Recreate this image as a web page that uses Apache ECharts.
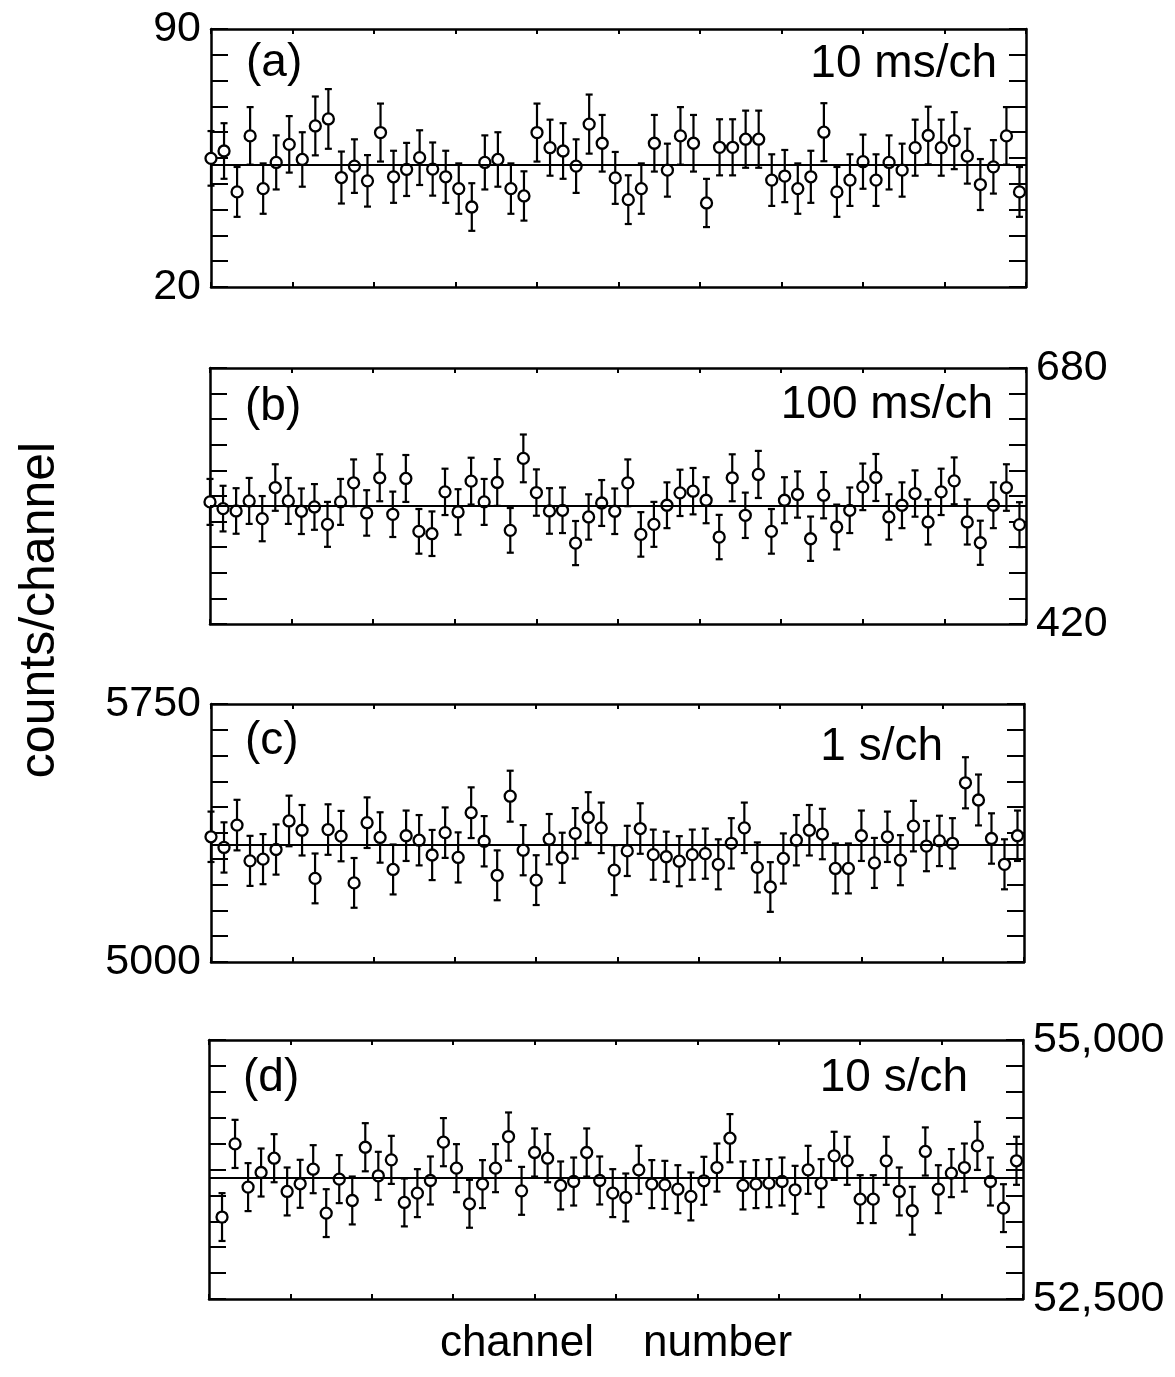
<!DOCTYPE html>
<html><head><meta charset="utf-8">
<script src="https://cdn.jsdelivr.net/npm/echarts@6/dist/echarts.min.js"></script>
<style>html,body{margin:0;padding:0;background:#fff}#c{width:1175px;height:1377px}</style>
</head><body><div id="c"></div>
<script>
// ---------- data ----------
const startChannel = [0, 0, 0, 1];
const valsA = [54.9,56.9,45.8,61.0,46.7,53.8,58.7,54.6,63.7,65.6,
  49.7,52.8,48.8,61.9,49.9,51.9,55.1,52.0,49.9,46.7,
  41.7,53.8,54.6,46.7,44.7,61.9,57.8,56.9,52.8,64.2,
  59.0,49.6,43.7,46.7,59.0,51.7,61.0,59.0,42.8,57.9,
  57.9,60.1,60.1,49.0,50.1,46.7,49.9,62.0,45.8,49.0,
  54.0,49.0,53.8,51.7,57.8,61.1,57.8,59.7,55.5,47.8,
  52.6,61.0,45.8];
const valsB = [544,537.2,534.8,545,527,558.6,545,534.5,538.9,521.2,
  544,563.4,532.8,568.5,531.4,567.8,514.1,511.7,554.2,533.8,
  565.1,544,563.7,515.1,588.2,553.5,534.8,535.5,502.2,528.7,
  542.9,534.5,563.4,511,521.2,540.6,553.2,554.9,545.7,508.3,
  568.5,530.4,571.9,514.1,545.7,551.5,506.6,550.8,518.5,535.5,
  559.3,568.8,528.7,540.6,552.5,523.6,554.2,565.4,523.6,502.5,
  540.6,558.6,520.9];
const valsC = [5364,5333,5398,5294,5299,5327,5410,5383,5243,5385,
  5366,5230,5405,5362,5269,5367,5354,5311,5376,5304,
  5434,5351,5252,5482,5325,5238,5357,5303,5374,5420,
  5390,5267,5323,5388,5312,5306,5293,5312,5315,5284,
  5345,5390,5275,5218,5301,5354,5383,5372,5272,5272,
  5367,5288,5364,5296,5395,5337,5352,5345,5521,5471,
  5359,5284,5367];
const valsD = [53291,53997,53580,53721,53859,53538,53612,53753,53329,53657,
  53451,53965,53689,53843,53432,53522,53644,54014,53763,53419,
  53609,53763,54068,53544,53914,53859,53596,53634,53914,53644,
  53522,53480,53747,53609,53602,53560,53490,53641,53769,54052,
  53596,53609,53618,53634,53554,53747,53618,53882,53834,53464,
  53464,53834,53538,53352,53924,53560,53715,53769,53978,53634,
  53377,53834];
const means = [53.1, 540.6, 5341.5, 53673];
const yMin = [20, 420, 5000, 52500];
const yMax = [90, 680, 5750, 55000];
const yTickCount = 10;
const yTickLabels = [['20','90'], ['420','680'], ['5000','5750'], ['52,500','55,000']];
const panelTags = ['(a)', '(b)', '(c)', '(d)'];
const binWidths = ['10 ms/ch', '100 ms/ch', '1 s/ch', '10 s/ch'];
const xMax = 62.5;
const xInterval = 6.25;
const yTitle = 'counts/channel';
const xTitle = 'channel    number';

// ---------- layout / style ----------
const FONT = "'Liberation Sans', Arial, Helvetica, sans-serif";
const layout = [
  {left:211, top:29,   width:815, height:258, side:'left',  tagX:246, tagY:63,   binX:997, binY:64},
  {left:210, top:368,  width:816, height:256, side:'right', tagX:245, tagY:407,  binX:993, binY:405},
  {left:211, top:704,  width:813, height:258, side:'left',  tagX:245, tagY:741,  binX:943, binY:747},
  {left:209, top:1040, width:814, height:259, side:'right', tagX:243, tagY:1078, binX:968, binY:1078}
];
const allVals = [valsA, valsB, valsC, valsD];

const grids = [], xAxes = [], yAxes = [], series = [], graphics = [];
layout.forEach((L, i) => {
  grids.push({left:L.left, top:L.top, width:L.width, height:L.height, containLabel:false});
  const axLine = {show:true, onZero:false, lineStyle:{color:'#000', width:2.5}};
  ['bottom','top'].forEach((pos, k) => {
    const ax = {type:'value', gridIndex:i, position:pos, min:0, max:xMax, interval:xInterval,
      axisLine:axLine, axisTick:{show:true, inside:true, length:5, lineStyle:{color:'#000', width:2}},
      axisLabel:{show:false}, splitLine:{show:false}};
    if (i === 3 && k === 0) {
      ax.name = xTitle; ax.nameLocation = 'middle'; ax.nameGap = 23;
      ax.nameTextStyle = {fontSize:44, fontFamily:FONT, color:'#000'};
    }
    xAxes.push(ax);
  });
  const ticks = [];
  for (let t = 0; t <= yTickCount; t++) ticks.push(yMin[i] + (yMax[i] - yMin[i]) * t / yTickCount);
  ['left','right'].forEach(pos => {
    yAxes.push({type:'value', gridIndex:i, position:pos, min:yMin[i], max:yMax[i],
      axisLine:axLine,
      axisTick:{show:true, inside:true, length:17, customValues:ticks, lineStyle:{color:'#000', width:2}},
      axisLabel:{show: pos === L.side, customValues:[yMin[i], yMax[i]], margin:10,
        fontSize:43, fontFamily:FONT, color:'#000',
        formatter: v => (v === yMin[i] ? yTickLabels[i][0] : yTickLabels[i][1])},
      splitLine:{show:false}});
  });
  const pts = allVals[i].map((v, j) => [startChannel[i] + j, v, Math.sqrt(v)]);
  series.push({
    type:'custom', xAxisIndex:2*i, yAxisIndex:2*i, z:2, silent:true,
    data: pts,
    renderItem: (params, api) => {
      const x = api.value(0), y = api.value(1), e = api.value(2);
      const hi = api.coord([x, y + e]), lo = api.coord([x, y - e]);
      const cw = 3.5;
      const st = {stroke:'#000', lineWidth:2.2};
      return {type:'group', children:[
        {type:'line', shape:{x1:hi[0], y1:hi[1], x2:lo[0], y2:lo[1]}, style:st},
        {type:'line', shape:{x1:hi[0]-cw, y1:hi[1], x2:hi[0]+cw, y2:hi[1]}, style:st},
        {type:'line', shape:{x1:lo[0]-cw, y1:lo[1], x2:lo[0]+cw, y2:lo[1]}, style:st}
      ]};
    },
    markLine:{silent:true, symbol:['none','none'], label:{show:false},
      lineStyle:{color:'#000', width:2.2, type:'solid'}, data:[{yAxis:means[i]}]}
  });
  series.push({
    type:'scatter', xAxisIndex:2*i, yAxisIndex:2*i, z:3, silent:true,
    data: pts.map(p => [p[0], p[1]]),
    symbol:'circle', symbolSize:11,
    itemStyle:{color:'#fff', borderColor:'#000', borderWidth:2.3, opacity:1}
  });
  graphics.push({type:'text', x:L.tagX, y:L.tagY, silent:true,
    style:{text:panelTags[i], font:`46px ${FONT}`, fill:'#000', textAlign:'left', textVerticalAlign:'middle'}});
  graphics.push({type:'text', x:L.binX, y:L.binY, silent:true,
    style:{text:binWidths[i], font:`46px ${FONT}`, fill:'#000', textAlign:'right', textVerticalAlign:'middle'}});
});
graphics.push({type:'text', x:40, y:610, rotation:Math.PI/2, silent:true,
  style:{text:yTitle, font:`50px ${FONT}`, fill:'#000', textAlign:'center', textVerticalAlign:'middle'}});

const chart = echarts.init(document.getElementById('c'), null, {renderer:'canvas'});
chart.setOption({
  animation:false, backgroundColor:'#fff',
  grid:grids, xAxis:xAxes, yAxis:yAxes, series:series, graphic:graphics
});
</script></body></html>
